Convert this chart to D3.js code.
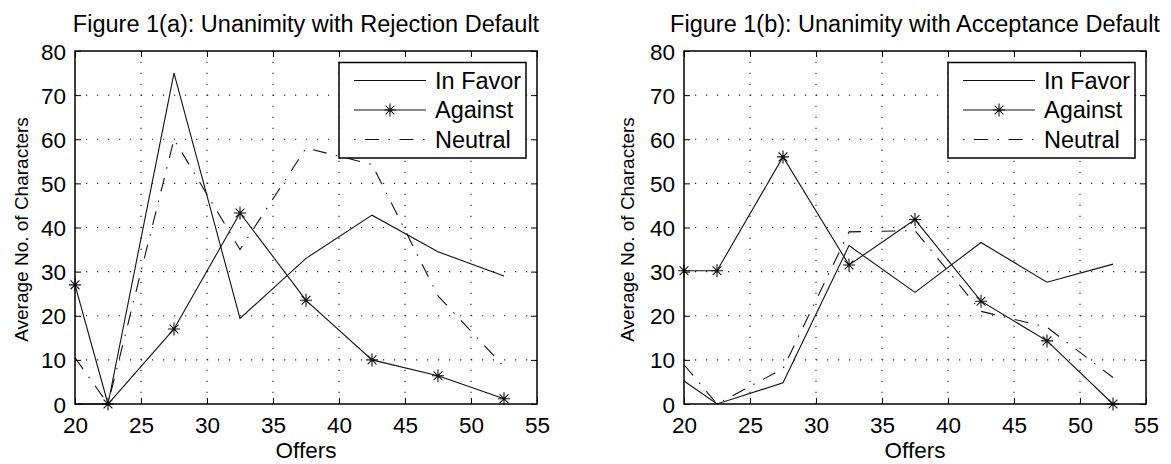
<!DOCTYPE html>
<html>
<head>
<meta charset="utf-8">
<script src="https://cdn.jsdelivr.net/npm/d3@7"></script>
<style>
  body { margin: 0; background: #fff; }
  svg { display: block; font-family: "Liberation Sans", Arial, Helvetica, sans-serif; }
  .grid line { stroke: #222; stroke-width: 1.1; stroke-dasharray: 1.2,9.8; }
  .axis path { display: none; }
  .axis line { stroke: #000; stroke-width: 1; }
  .axis text { font-size: 22.5px; fill: #000; }
  .series { fill: none; stroke: #111; stroke-width: 1.1; }
</style>
</head>
<body>
<script>
// offers on the x axis
var offers = [20, 22.5, 27.5, 32.5, 37.5, 42.5, 47.5, 52.5];

// figure 1(a): rejection default
var rejFavor   = [0, 0, 75, 19.4, 33, 42.8, 34.5, 29];
var rejAgainst = [27, 0, 17, 43.3, 23.5, 10, 6.4, 1.2];
var rejNeutral = [10.5, 0, 60, 35, 58, 54.3, 24.5, 8.5];

// figure 1(b): acceptance default
var accFavor   = [5.2, 0, 4.8, 35.9, 25.3, 36.6, 27.6, 31.7];
var accAgainst = [30.2, 30.2, 56, 31.5, 41.8, 23.3, 14.3, 0];
var accNeutral = [8.9, 0, 8, 39, 39.3, 21, 17.4, 6];

var xTicks = [20, 25, 30, 35, 40, 45, 50, 55];
var yTicks = [0, 10, 20, 30, 40, 50, 60, 70, 80];
var legendLabels = ["In Favor", "Against", "Neutral"];
var titles = ["Figure 1(a): Unanimity with Rejection Default",
              "Figure 1(b): Unanimity with Acceptance Default"];

var width = 1171, height = 464;
var pw = 462, ph = 353;   // axes box size
var panelLeft = [75, 684];
var panelTop = 51;

var neutralDash = "14,9.5,1.5,9.5";
var starPath = "M-6,0H6M0,-6.5V6.5M-4.4,-4.4L4.4,4.4M-4.4,4.4L4.4,-4.4";

var svg = d3.select("body").append("svg")
    .attr("width", width)
    .attr("height", height);

var panels = [
  {favor: rejFavor, against: rejAgainst, neutral: rejNeutral, title: titles[0]},
  {favor: accFavor, against: accAgainst, neutral: accNeutral, title: titles[1]}
];

panels.forEach(function(p, i) {
  var g = svg.append("g")
      .attr("transform", `translate(${panelLeft[i]}, ${panelTop})`);

  var x = d3.scaleLinear().domain([20, 55]).range([0, pw]);
  var y = d3.scaleLinear().domain([0, 80]).range([ph, 0]);

  // dotted grid
  var grid = g.append("g").attr("class", "grid");
  grid.selectAll(".gx")
    .data(xTicks.slice(1, -1))
    .enter().append("line")
      .attr("x1", d => x(d)).attr("x2", d => x(d))
      .attr("y1", ph).attr("y2", 0);
  grid.selectAll(".gy")
    .data(yTicks.slice(1, -1))
    .enter().append("line")
      .attr("y1", d => y(d)).attr("y2", d => y(d))
      .attr("x1", 0).attr("x2", pw);

  // ticks on all four sides, pointing in
  var gBottom = g.append("g").attr("class", "axis")
      .attr("transform", `translate(0, ${ph})`)
      .call(d3.axisBottom(x).tickValues(xTicks).tickSizeInner(-6).tickSizeOuter(0).tickPadding(13));
  g.append("g").attr("class", "axis")
      .call(d3.axisTop(x).tickValues(xTicks).tickSizeInner(-6).tickSizeOuter(0).tickFormat(""));
  var gLeft = g.append("g").attr("class", "axis")
      .call(d3.axisLeft(y).tickValues(yTicks).tickSizeInner(-6).tickSizeOuter(0).tickPadding(9));
  g.append("g").attr("class", "axis")
      .attr("transform", `translate(${pw}, 0)`)
      .call(d3.axisRight(y).tickValues(yTicks).tickSizeInner(-6).tickSizeOuter(0).tickFormat(""));

  gBottom.selectAll("text").attr("dy", "0.71em");
  gLeft.selectAll("text").attr("dy", "0.36em");

  var line = d3.line()
    .x((d, k) => x(offers[k]))
    .y(d => y(d));

  g.append("path").attr("class", "series").attr("d", line(p.favor));
  g.append("path").attr("class", "series").attr("d", line(p.against));
  g.append("path").attr("class", "series")
      .attr("stroke-dasharray", neutralDash)
      .attr("d", line(p.neutral));

  g.selectAll(".star")
    .data(p.against)
    .enter().append("path")
      .attr("class", "series")
      .attr("transform", (d, k) => `translate(${x(offers[k])}, ${y(d)})`)
      .attr("d", starPath);

  // box
  g.append("rect")
      .attr("width", pw).attr("height", ph)
      .attr("fill", "none").attr("stroke", "#000").attr("stroke-width", 1.5);

  // legend
  var lw = 187, lh = 95.5;
  var lg = g.append("g").attr("transform", `translate(${pw - 11 - lw}, 11.5)`);
  lg.append("rect")
      .attr("width", lw).attr("height", lh)
      .attr("fill", "#fff").attr("stroke", "#000").attr("stroke-width", 1.5);
  var rows = lg.selectAll(".row")
    .data(legendLabels)
    .enter().append("g")
      .attr("transform", (d, k) => `translate(0, ${18 + k * 29.5})`);
  rows.append("line")
      .attr("class", "series")
      .attr("x1", 15).attr("x2", 87)
      .attr("stroke-dasharray", (d, k) => k === 2 ? "1.5,9.5,14,9.5" : null);
  rows.filter((d, k) => k === 1).append("path")
      .attr("class", "series")
      .attr("transform", "translate(51, 0)")
      .attr("d", starPath);
  rows.append("text")
      .attr("x", 96).attr("dy", "0.36em")
      .style("font-size", "23.5px")
      .text(d => d);

  // titles and labels
  g.append("text")
      .attr("x", pw / 2).attr("y", -19)
      .attr("text-anchor", "middle")
      .style("font-size", "23.5px")
      .text(p.title);
  g.append("text")
      .attr("x", pw / 2).attr("y", ph + 54)
      .attr("text-anchor", "middle")
      .style("font-size", "22.5px")
      .text("Offers");
  g.append("text")
      .attr("transform", `translate(${i === 0 ? -47 : -50}, ${ph / 2 + 2}) rotate(-90)`)
      .attr("text-anchor", "middle")
      .style("font-size", "19px")
      .text("Average No. of Characters");
});
</script>
</body>
</html>
